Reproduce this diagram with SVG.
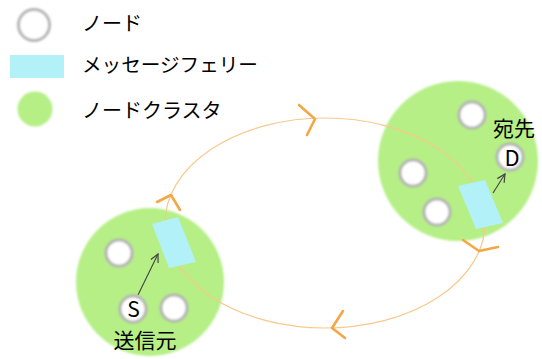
<svg xmlns="http://www.w3.org/2000/svg" width="542" height="359" viewBox="0 0 542 359">
<defs>
<filter id="soft" x="-20%" y="-20%" width="140%" height="140%"><feGaussianBlur stdDeviation="0.9"/></filter>
<filter id="softc" x="-10%" y="-10%" width="120%" height="120%"><feGaussianBlur stdDeviation="1.2"/></filter>
<marker id="ah" viewBox="0 0 10 10" refX="9" refY="5" markerWidth="10" markerHeight="10" markerUnits="userSpaceOnUse" orient="auto"><path d="M1,1 L9,5 L1,9" fill="none" stroke="#444" stroke-width="1.2"/></marker>
</defs>
<style>
.cluster{fill:#b5ef86;filter:url(#softc)}
.node{fill:#fff;stroke:#b4b4b4;stroke-width:3;filter:url(#soft)}
.ferry{fill:#b3f1f9}
.lbl{font-family:"Noto Sans CJK JP","Noto Sans",sans-serif;fill:#000}
.orbit{fill:none;stroke:#f9c88c;stroke-width:1.2}
.chev{fill:none;stroke:#f5a745;stroke-width:2.6;stroke-linecap:round;stroke-linejoin:round}
.msg{fill:none;stroke:#444;stroke-width:1.1}
</style>
<rect width="542" height="359" fill="#fff"/>
<g id="legend">
<circle class="node" cx="34" cy="25" r="15.5"/>
<text class="lbl" x="82" y="31" font-size="20">ノード</text>
<rect class="ferry" x="10" y="55" width="54" height="23"/>
<text class="lbl" x="82" y="72" font-size="19.6">メッセージフェリー</text>
<circle class="cluster" cx="35" cy="109" r="17.5"/>
<text class="lbl" x="82" y="118" font-size="20">ノードクラスタ</text>
</g>
<g id="cluster-left">
<circle class="cluster" cx="150" cy="282" r="74"/>
</g>
<g id="cluster-right">
<circle class="cluster" cx="458" cy="161" r="80"/>
</g>
<g id="connectors">
<ellipse class="orbit" cx="325" cy="223" rx="160" ry="105"/>
<polyline class="chev" points="299,105 315,119 307,135"/>
<polyline class="chev" points="157,202 171,195 180,210"/>
<polyline class="chev" points="463,240 479,251 498,247"/>
<polyline class="chev" points="343,311 332,328 345,338"/>
<line class="msg" x1="138" y1="295" x2="158" y2="254" marker-end="url(#ah)"/>
<line class="msg" x1="493" y1="193" x2="505" y2="174" marker-end="url(#ah)"/>
</g>
<g id="ferry-left">
<polygon class="ferry" points="152,224 178,217 196,262 169,268"/>
</g>
<g id="ferry-right">
<polygon class="ferry" points="458,186 485,180 503,223 476,229"/>
</g>
<g id="node-l1"><circle class="node" cx="119" cy="253" r="13"/></g>
<g id="node-s"><circle class="node" cx="133" cy="309" r="13"/>
<text class="lbl" x="133.5" y="317" font-size="21" text-anchor="middle" font-family="Noto Sans">S</text></g>
<g id="node-l3"><circle class="node" cx="174" cy="308" r="13"/></g>
<text class="lbl" x="145" y="348" font-size="21" text-anchor="middle">送信元</text>
<g id="node-r1"><circle class="node" cx="472" cy="115" r="13"/></g>
<g id="node-d"><circle class="node" cx="510" cy="157" r="13"/>
<text class="lbl" x="512" y="166" font-size="22" text-anchor="middle">D</text></g>
<g id="node-r3"><circle class="node" cx="413" cy="173" r="13"/></g>
<g id="node-r4"><circle class="node" cx="437" cy="212" r="13"/></g>
<text class="lbl" x="514" y="136" font-size="21" text-anchor="middle">宛先</text>
</svg>
